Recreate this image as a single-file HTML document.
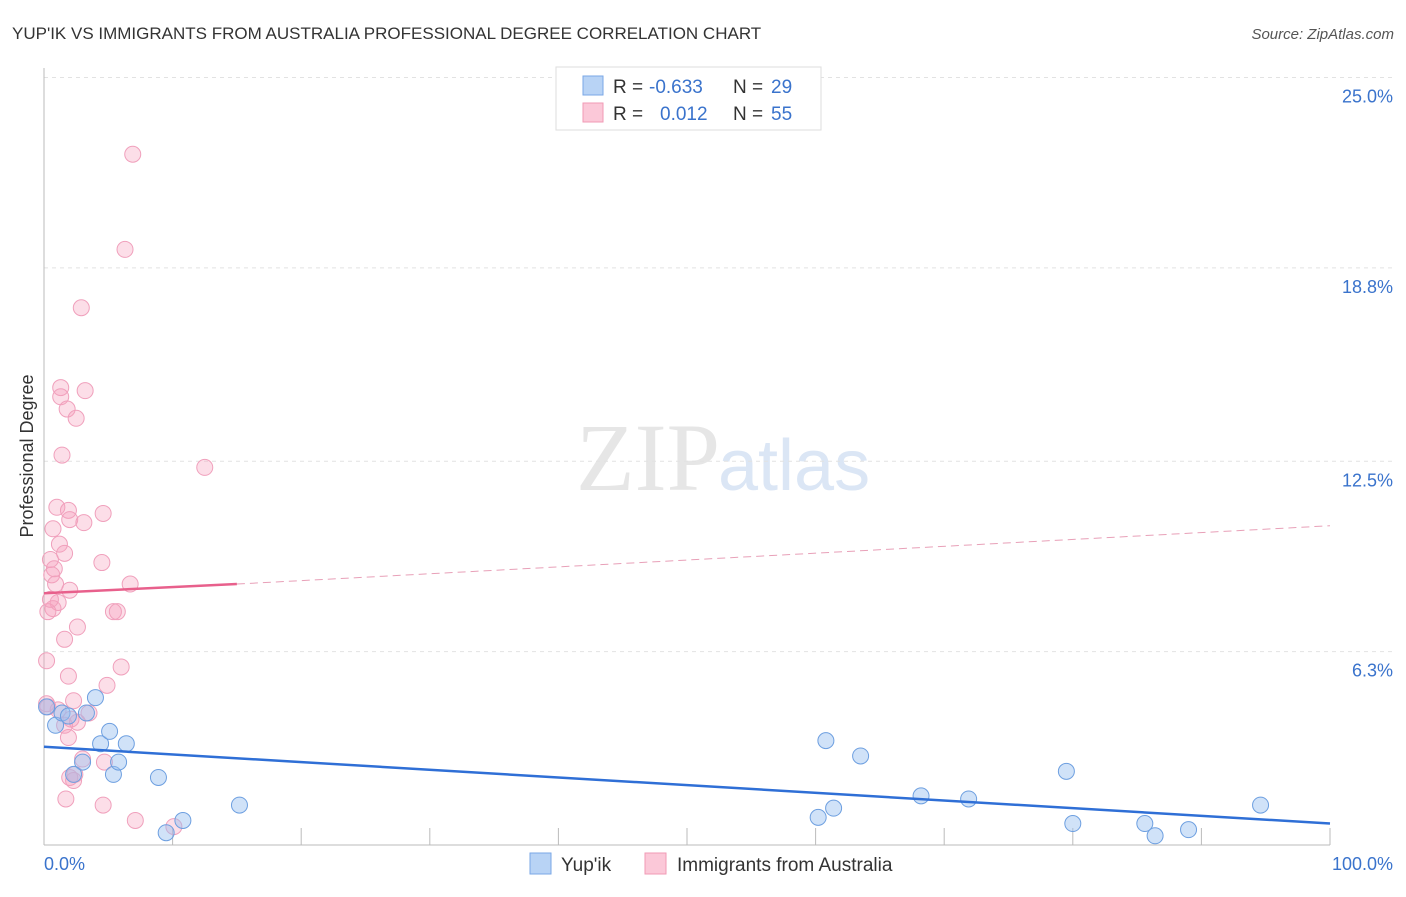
<!DOCTYPE html>
<html><head><meta charset="utf-8"><style>
body{margin:0;background:#fff;font-family:"Liberation Sans",sans-serif}
svg text{font-family:"Liberation Sans",sans-serif}
</style></head><body>
<svg id="c" width="1406" height="892" xmlns="http://www.w3.org/2000/svg">
<text x="12" y="39" font-size="17" fill="#333">YUP'IK VS IMMIGRANTS FROM AUSTRALIA PROFESSIONAL DEGREE CORRELATION CHART</text>
<text x="1394" y="39" font-size="15" fill="#555" font-style="italic" text-anchor="end">Source: ZipAtlas.com</text>
<text x="720" y="490" font-size="96" fill="#e6e6e6" text-anchor="end" font-family="Liberation Serif" style="font-family:'Liberation Serif',serif">ZIP</text>
<text x="718" y="490" font-size="72" fill="#dbe6f5">atlas</text>
<text transform="translate(33,456) rotate(-90)" font-size="18" fill="#333" text-anchor="middle">Professional Degree</text>
<g id="grid"></g><g id="pts"></g><g id="lines"></g>
<g>
<rect x="556" y="67" width="265" height="63" fill="#fff" stroke="#ddd"/>
<rect x="583" y="76" width="20" height="19" fill="#b8d3f5" stroke="#7aa7e6"/>
<rect x="583" y="103" width="20" height="19" fill="#fbc8d8" stroke="#f09ab5"/>
<text x="613" y="93" font-size="19" fill="#333">R =</text><text x="649" y="93" font-size="19" fill="#3a73cc">-0.633</text>
<text x="733" y="93" font-size="19" fill="#333">N =</text><text x="771" y="93" font-size="19" fill="#3a73cc">29</text>
<text x="613" y="120" font-size="19" fill="#333">R =</text><text x="660" y="120" font-size="19" fill="#3a73cc">0.012</text>
<text x="733" y="120" font-size="19" fill="#333">N =</text><text x="771" y="120" font-size="19" fill="#3a73cc">55</text>
</g>
<g>
<rect x="530" y="853" width="21" height="21" fill="#b8d3f5" stroke="#7aa7e6"/>
<text x="561" y="871" font-size="19" fill="#333">Yup'ik</text>
<rect x="645" y="853" width="21" height="21" fill="#fbc8d8" stroke="#f09ab5"/>
<text x="677" y="871" font-size="19" fill="#333">Immigrants from Australia</text>
</g>
</svg>
<script>
const yTicks=[6.3,12.5,18.8,25.0];
const yTickLabels=["6.3%","12.5%","18.8%","25.0%"];
const xTickLabels=["0.0%","100.0%"];
const blueX=[0.2,0.9,1.4,1.9,3.3,4.0,4.4,5.1,6.4,3.0,5.4,5.8,8.9,9.5,10.8,15.2,2.3,60.8,63.5,60.2,61.4,68.2,71.9,79.5,80.0,85.6,86.4,89.0,94.6];
const blueY=[4.5,3.9,4.3,4.2,4.3,4.8,3.3,3.7,3.3,2.7,2.3,2.7,2.2,0.4,0.8,1.3,2.3,3.4,2.9,0.9,1.2,1.6,1.5,2.4,0.7,0.7,0.3,0.5,1.3];
const pinkX=[6.9,6.3,2.9,1.3,3.2,1.3,1.8,2.5,1.4,12.5,1.0,1.9,4.6,2.0,3.1,0.7,1.2,1.6,0.5,4.5,0.8,0.6,0.9,6.7,2.0,1.1,0.7,5.4,5.7,0.3,2.6,1.6,0.2,6.0,1.9,4.9,0.3,2.3,1.1,3.5,2.1,2.6,1.9,3.0,4.7,2.4,2.3,1.7,4.6,7.1,10.1,0.2,1.6,2.0,0.5];
const pinkY=[22.5,19.4,17.5,14.9,14.8,14.6,14.2,13.9,12.7,12.3,11.0,10.9,10.8,10.6,10.5,10.3,9.8,9.5,9.3,9.2,9.0,8.8,8.5,8.5,8.3,7.9,7.7,7.6,7.6,7.6,7.1,6.7,6.0,5.8,5.5,5.2,4.5,4.7,4.4,4.3,4.1,4.0,3.5,2.8,2.7,2.3,2.1,1.5,1.3,0.8,0.6,4.6,3.9,2.2,8.0];
const blueLine=[3.2,0.7], pinkLine=[8.2,8.5,10.4];
const X=v=>44+v*12.86, Y=v=>845-v*30.7;
const NS="http://www.w3.org/2000/svg";
function mk(p,t,a){const e=document.createElementNS(NS,t);for(const k in a)e.setAttribute(k,a[k]);p.appendChild(e);return e;}
const g=document.getElementById('grid');
yTicks.forEach((t,i)=>{
 const l=mk(g,'line',{x1:44,x2:1394,y1:Y(t),y2:Y(t),stroke:'#e2e2e2','stroke-dasharray':'4,4'});
 
 
 const tx=mk(g,'text',{x:1393,y:Y(t)+25,'font-size':18,fill:'#3a73cc','text-anchor':'end'});tx.textContent=yTickLabels[i];
 
 
});
const ax=mk(g,'line',{x1:44,x2:44,y1:68,y2:845,stroke:'#bbb'});


const bx=mk(g,'line',{x1:44,x2:1330,y1:845,y2:845,stroke:'#bbb'});


for(let i=0;i<=10;i++){const t=mk(g,'line',{x1:X(i*10),x2:X(i*10),y1:828,y2:845,stroke:'#bbb'});
 
 }
[[0,'start'],[100,'end']].forEach((p,i)=>{const t=mk(g,'text',{x:i?1393:44,y:870,'font-size':18,fill:'#3a73cc','text-anchor':p[1]});t.textContent=xTickLabels[i];
 
 });
const pg=document.getElementById('pts');
pinkX.forEach((x,i)=>{const c=mk(pg,'circle',{cx:X(x),cy:Y(pinkY[i]),r:8,fill:'rgba(246,160,188,0.35)',stroke:'#f0a0bc','stroke-width':1});
 
 });
blueX.forEach((x,i)=>{const c=mk(pg,'circle',{cx:X(x),cy:Y(blueY[i]),r:8,fill:'rgba(150,190,240,0.45)',stroke:'#6d9fe0','stroke-width':1});
 
 });
const lg=document.getElementById('lines');
const b=mk(lg,'line',{x1:X(0),y1:Y(blueLine[0]),x2:X(100),y2:Y(blueLine[1]),stroke:'#2f6fd6','stroke-width':2.5});


const p1=mk(lg,'line',{x1:X(0),y1:Y(pinkLine[0]),x2:X(15),y2:Y(pinkLine[1]),stroke:'#e8608c','stroke-width':2.5});


const p2=mk(lg,'line',{x1:X(15),y1:Y(pinkLine[1]),x2:X(100),y2:Y(pinkLine[2]),stroke:'#e8a0b8','stroke-width':1,'stroke-dasharray':'8,5'});


</script>
</body></html>
